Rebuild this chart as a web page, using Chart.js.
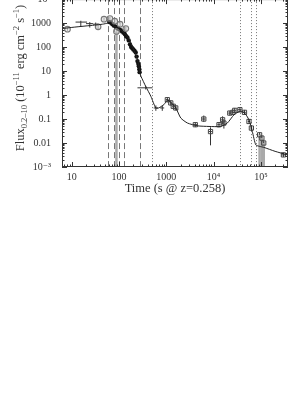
<!DOCTYPE html>
<html>
<head>
<meta charset="utf-8">
<script src="https://cdn.jsdelivr.net/npm/chart.js@4.4.1/dist/chart.umd.min.js"></script>
<style>
html, body { margin: 0; padding: 0; background: #fff; overflow: hidden; }
#wrap { width: 305px; height: 394px; overflow: hidden; }
#lcChart { display: block; margin-top: -6px; }
</style>
</head>
<body>
<div id="wrap"><canvas id="lcChart" width="305" height="400"></canvas></div>
<script>
// Axis ticks
const xTicks = [10, 100, 1000, 1e4, 1e5];
const xTickLabels = ['10', '100', '1000', '10⁴', '10⁵'];
const yTicks = [1e-3, 0.01, 0.1, 1, 10, 100, 1000, 1e4];
const yTickLabels = ['10⁻³', '0.01', '0.1', '1', '10', '100', '1000', '10⁴'];

// Model curve
const modelT = [6.3, 10, 20, 30, 45, 58, 66, 75, 90, 110, 130, 160, 200, 240, 265, 278, 290, 366, 470, 596, 690, 890, 1050, 1240, 1590, 2020, 2800, 4570, 8000, 14000, 19500, 27000, 34700, 44000, 56000, 66000, 78000, 95000, 115000, 200000, 365000];
const modelF = [590, 660, 760, 820, 900, 1000, 1080, 800, 650, 500, 370, 230, 85, 35, 15, 8, 6.1, 2.3, 0.89, 0.29, 0.29, 0.40, 0.62, 0.50, 0.29, 0.11, 0.068, 0.052, 0.049, 0.049, 0.068, 0.15, 0.20, 0.19, 0.093, 0.030, 0.0084, 0.0072, 0.0066, 0.0045, 0.0032];

// Black dots (early steep decay)
const dotT = [62, 67, 72, 78, 85, 92, 100, 108, 116, 124, 132, 140, 150, 160, 170, 180, 190, 200, 212, 225, 235, 245, 255, 262, 268, 272];
const dotF = [1100, 1050, 900, 780, 700, 640, 560, 500, 450, 400, 350, 290, 250, 190, 130, 100, 90, 80, 70, 60, 40, 26, 20, 16, 12, 9];

// Grey open circles
const grayT = [8.1, 36, 48, 64, 81, 88, 105, 139];
const grayF = [560, 700, 1450, 1550, 1200, 450, 900, 590];
const grayFlo = [480, 550, 1250, 1350, 1000, 0.001, 750, 480];
const grayFhi = [650, 900, 1700, 1800, 1450, 600, 1100, 720];

// Crosses (error bars only)
const crossT = [15.5, 24, 32, 366, 600, 820];
const crossF = [1100, 950, 900, 2.0, 0.29, 0.29];
const crossTlo = [12, 20, 28, 245, 540, 740];
const crossThi = [21, 28, 37, 510, 670, 900];
const crossFlo = [700, 650, 650, 1.7, 0.22, 0.22];
const crossFhi = [1250, 1100, 1050, 2.4, 0.37, 0.37];

// Open squares with error bars
const sqT = [1050, 1240, 1400, 1580, 4100, 6200, 8600, 13000, 15500, 16500, 22000, 25500, 28000, 36000, 45000, 56000, 63000, 94000, 105000, 115000, 300000];
const sqF = [0.64, 0.47, 0.34, 0.29, 0.058, 0.10, 0.030, 0.058, 0.093, 0.068, 0.177, 0.19, 0.23, 0.245, 0.19, 0.079, 0.042, 0.022, 0.016, 0.010, 0.0032];
const sqFlo = [0.5, 0.37, 0.27, 0.23, 0.046, 0.075, 0.008, 0.045, 0.06, 0.04, 0.14, 0.15, 0.18, 0.2, 0.15, 0.062, 0.032, 0.001, 0.001, 0.001, 0.0026];
const sqFhi = [0.8, 0.6, 0.43, 0.37, 0.072, 0.14, 0.045, 0.075, 0.13, 0.09, 0.22, 0.24, 0.29, 0.3, 0.24, 0.1, 0.055, 0.028, 0.021, 0.013, 0.004];
const sqTlo = [980, 1170, 1330, 1500, 3700, 5700, 8000, 12000, 14500, 15500, 20500, 24000, 26500, 33000, 42000, 53000, 60000, 90000, 100000, 110000, 270000];
const sqThi = [1120, 1310, 1470, 1660, 4500, 6700, 9200, 14000, 16500, 17500, 23500, 27000, 29500, 39000, 48000, 59000, 66000, 98000, 110000, 120000, 330000];

// Vertical marker lines
const dashedT = [59.7, 78, 100, 128, 274];
const dottedT = [508, 35600, 63000, 77600];

const xMin = 6.2, xMax = 3.75e5, yMin = 1e-3, yMax = 1e4;
const serif = "'Liberation Serif', 'DejaVu Serif', serif";
const textColor = '#333';

function pts(ts, fs) {
    return ts.map((t, i) => ({ x: t, y: fs[i] }));
}

// Vertical lines and error bars, under the markers
const underlay = {
    id: 'underlay',
    beforeDatasetsDraw(chart) {
        const { ctx, chartArea: a, scales: { x, y } } = chart;
        ctx.save();
        ctx.beginPath();
        ctx.rect(a.left, a.top, a.right - a.left, a.bottom - a.top);
        ctx.clip();

        ctx.strokeStyle = '#777';
        ctx.lineWidth = 1;
        ctx.setLineDash([6, 3]);
        dashedT.forEach(t => {
            const px = Math.round(x.getPixelForValue(t)) + 0.5;
            ctx.beginPath(); ctx.moveTo(px, a.top); ctx.lineTo(px, a.bottom); ctx.stroke();
        });
        ctx.setLineDash([1, 2]);
        dottedT.forEach(t => {
            const px = Math.round(x.getPixelForValue(t)) + 0.5;
            ctx.beginPath(); ctx.moveTo(px, a.top); ctx.lineTo(px, a.bottom); ctx.stroke();
        });
        ctx.setLineDash([]);

        chart.data.datasets.forEach(ds => {
            if (!ds.err) return;
            const e = ds.err;
            ds.data.forEach((p, i) => {
                const px = x.getPixelForValue(p.x), py = y.getPixelForValue(p.y);
                ctx.strokeStyle = ds.errColor;
                ctx.lineWidth = 1;
                if (e.tLo) {
                    ctx.beginPath();
                    ctx.moveTo(x.getPixelForValue(e.tLo[i]), py);
                    ctx.lineTo(x.getPixelForValue(e.tHi[i]), py);
                    ctx.stroke();
                }
                if (e.fLo) {
                    const lo = e.fLo[i];
                    ctx.beginPath();
                    ctx.moveTo(px, y.getPixelForValue(e.fHi[i]));
                    ctx.lineTo(px, py);
                    ctx.stroke();
                    if (lo <= yMin) {
                        // error bar running off the bottom of the plot
                        ctx.strokeStyle = '#aaa';
                        ctx.lineWidth = 2.5;
                    }
                    ctx.beginPath();
                    ctx.moveTo(px, py);
                    ctx.lineTo(px, y.getPixelForValue(Math.max(lo, yMin)));
                    ctx.stroke();
                }
            });
        });
        ctx.restore();
    }
};

// Box frame with inward major/minor ticks on all four sides
const frame = {
    id: 'frame',
    afterDatasetsDraw(chart) {
        const { ctx, chartArea: a, scales: { x, y } } = chart;
        ctx.save();
        ctx.strokeStyle = '#333';
        ctx.lineWidth = 1;
        ctx.strokeRect(a.left + 0.5, a.top + 0.5, a.right - a.left - 1, a.bottom - a.top - 1);
        ctx.beginPath();
        for (let d = -4; d <= 6; d++) {
            for (let m = 1; m <= 9; m++) {
                const v = m * Math.pow(10, d);
                const len = m === 1 ? 5 : 2.5;
                if (v >= xMin && v <= xMax) {
                    const px = Math.round(x.getPixelForValue(v)) + 0.5;
                    ctx.moveTo(px, a.bottom); ctx.lineTo(px, a.bottom - len);
                    ctx.moveTo(px, a.top); ctx.lineTo(px, a.top + len);
                }
                if (v >= yMin && v <= yMax) {
                    const py = Math.round(y.getPixelForValue(v)) + 0.5;
                    ctx.moveTo(a.left, py); ctx.lineTo(a.left + len, py);
                    ctx.moveTo(a.right, py); ctx.lineTo(a.right - len, py);
                }
            }
        }
        ctx.stroke();
        ctx.restore();
    }
};

// Rotated y title with sub/superscripts
const yTitleParts = [['Flux', 0], ['0.2–10', -1], [' (10', 0], ['−11', 1], [' erg cm', 0], ['−2', 1], [' s', 0], ['−1', 1], [')', 0]];
const yTitle = {
    id: 'yTitle',
    afterDraw(chart) {
        const { ctx } = chart;
        const big = 12.5, small = 8.5;
        ctx.save();
        ctx.fillStyle = textColor;
        ctx.textBaseline = 'alphabetic';
        let w = 0;
        yTitleParts.forEach(([s, k]) => {
            ctx.font = (k ? small : big) + 'px ' + serif;
            w += ctx.measureText(s).width;
        });
        ctx.translate(24, 84);
        ctx.rotate(-Math.PI / 2);
        let cx = -w / 2;
        yTitleParts.forEach(([s, k]) => {
            ctx.font = (k ? small : big) + 'px ' + serif;
            const dy = k === 1 ? -5 : (k === -1 ? 3 : 0);
            ctx.fillText(s, cx, dy);
            cx += ctx.measureText(s).width;
        });
        ctx.restore();
    }
};

const ctx = document.getElementById('lcChart').getContext('2d');
const lcChart = new Chart(ctx, {
    type: 'scatter',
    data: {
        datasets: [
            {
                type: 'line',
                label: 'model',
                data: pts(modelT, modelF),
                borderColor: '#222',
                borderWidth: 1,
                pointRadius: 0,
                tension: 0.2,
                fill: false
            },
            {
                label: 'crosses',
                data: pts(crossT, crossF),
                pointRadius: 0,
                errColor: '#333',
                err: { tLo: crossTlo, tHi: crossThi, fLo: crossFlo, fHi: crossFhi }
            },
            {
                label: 'squares',
                data: pts(sqT, sqF),
                pointStyle: 'rect',
                pointRadius: 3,
                borderColor: '#444',
                borderWidth: 1,
                backgroundColor: 'rgba(0,0,0,0)',
                errColor: '#333',
                err: { tLo: sqTlo, tHi: sqThi, fLo: sqFlo, fHi: sqFhi }
            },
            {
                label: 'grey',
                data: pts(grayT, grayF),
                pointStyle: 'circle',
                pointRadius: 2.8,
                borderColor: '#777',
                borderWidth: 1.1,
                backgroundColor: 'rgba(200,200,200,0.4)',
                errColor: '#888',
                err: { fLo: grayFlo, fHi: grayFhi }
            },
            {
                label: 'dots',
                data: pts(dotT, dotF),
                pointStyle: 'circle',
                pointRadius: 2.2,
                borderWidth: 0,
                backgroundColor: '#111'
            }
        ]
    },
    options: {
        responsive: false,
        animation: false,
        devicePixelRatio: 1,
        layout: { padding: { left: 0, right: 17, top: 0, bottom: 194 } },
        plugins: {
            legend: { display: false },
            tooltip: { enabled: false }
        },
        scales: {
            x: {
                type: 'logarithmic',
                min: xMin,
                max: xMax,
                grid: { display: false, drawTicks: false },
                border: { display: false },
                afterBuildTicks: s => { s.ticks = xTicks.map(v => ({ value: v, major: true })); },
                afterFit: s => { s.height = 33; s.paddingLeft = 0; s.paddingRight = 0; },
                ticks: {
                    autoSkip: false,
                    maxRotation: 0,
                    padding: 4,
                    color: textColor,
                    font: { family: serif, size: 10 },
                    callback: (v, i) => xTickLabels[i]
                },
                title: {
                    display: true,
                    text: 'Time (s @ z=0.258)',
                    color: textColor,
                    font: { family: serif, size: 12.5 },
                    padding: { top: 0, bottom: 4 }
                }
            },
            y: {
                type: 'logarithmic',
                min: yMin,
                max: yMax,
                grid: { display: false, drawTicks: false },
                border: { display: false },
                afterBuildTicks: s => { s.ticks = yTicks.map(v => ({ value: v, major: true })); },
                afterFit: s => { s.width = 62; s.paddingTop = 0; s.paddingBottom = 0; },
                ticks: {
                    autoSkip: false,
                    padding: 11,
                    color: textColor,
                    font: { family: serif, size: 10 },
                    callback: (v, i) => yTickLabels[i]
                }
            }
        }
    },
    plugins: [underlay, frame, yTitle]
});
</script>
</body>
</html>
